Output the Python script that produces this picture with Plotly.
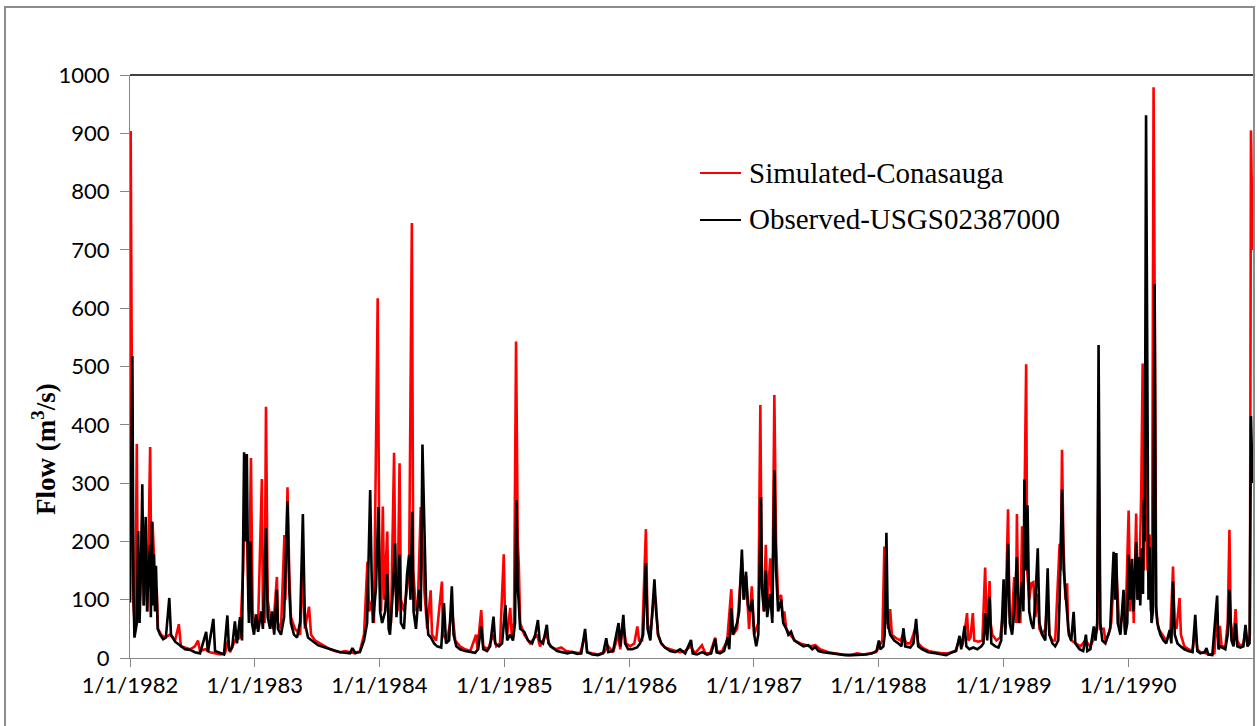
import pandas as pd
import plotly.graph_objects as go

# Daily streamflow record, Conasauga River (m3/s); x given as days since 1 Jan 1982
START = pd.Timestamp("1982-01-01")

sim_day = [0, 2, 6, 10, 15, 20, 23, 29, 36, 41, 46, 51, 59, 63, 66, 70, 73, 78, 82, 91,
           102, 117, 132, 143, 149, 161, 176, 190, 199, 205, 220, 234, 249, 264, 278, 287, 293, 307, 322, 331,
           337, 343, 348, 354, 359, 366, 375, 386, 389, 394, 398, 403, 410, 419, 430, 433, 442, 452, 455, 461,
           466, 471, 483, 498, 506, 512, 524, 530, 542, 556, 571, 586, 600, 615, 630, 644, 659, 673, 685, 695,
           700, 709, 714, 725, 730, 735, 740, 744, 753, 757, 764, 773, 777, 783, 789, 793, 802, 811, 817, 825,
           829, 837, 843, 851, 855, 861, 870, 880, 884, 896, 913, 916, 928, 937, 943, 952, 966, 981, 996, 1013,
           1017, 1028, 1034, 1048, 1063, 1072, 1083, 1094, 1098, 1104, 1113, 1117, 1124, 1130, 1135, 1138, 1142, 1154, 1171, 1192,
           1200, 1218, 1230, 1247, 1262, 1277, 1294, 1318, 1332, 1338, 1353, 1370, 1388, 1400, 1414, 1429, 1435, 1443, 1452, 1464,
           1476, 1485, 1490, 1499, 1510, 1515, 1523, 1535, 1539, 1545, 1555, 1566, 1581, 1596, 1610, 1625, 1640, 1654, 1674, 1684,
           1698, 1713, 1719, 1733, 1748, 1760, 1765, 1777, 1791, 1798, 1803, 1812, 1820, 1827, 1839, 1845, 1849, 1855, 1861, 1865,
           1874, 1880, 1886, 1891, 1897, 1906, 1910, 1915, 1921, 1932, 1947, 1962, 1976, 1991, 2006, 2020, 2044, 2064, 2085, 2108,
           2129, 2146, 2167, 2184, 2193, 2202, 2208, 2213, 2219, 2225, 2230, 2240, 2255, 2263, 2272, 2284, 2301, 2307, 2319, 2337,
           2357, 2377, 2395, 2416, 2427, 2436, 2442, 2450, 2454, 2460, 2467, 2471, 2483, 2495, 2503, 2508, 2516, 2519, 2524, 2536,
           2547, 2556, 2562, 2570, 2574, 2580, 2588, 2593, 2596, 2600, 2606, 2611, 2615, 2623, 2626, 2632, 2638, 2644, 2650, 2656,
           2662, 2670, 2679, 2685, 2691, 2700, 2708, 2721, 2724, 2728, 2732, 2738, 2743, 2746, 2755, 2767, 2782, 2796, 2811, 2826,
           2831, 2835, 2840, 2850, 2855, 2864, 2872, 2878, 2887, 2896, 2907, 2913, 2923, 2928, 2934, 2938, 2945, 2949, 2955, 2960,
           2964, 2968, 2974, 2978, 2984, 2988, 2992, 2996, 3001, 3004, 3010, 3022, 3033, 3045, 3053, 3057, 3063, 3072, 3076, 3086,
           3098, 3110, 3118, 3124, 3133, 3148, 3162, 3174, 3182, 3186, 3190, 3195, 3206, 3213, 3218, 3222, 3230, 3236, 3241, 3250,
           3259, 3265, 3271, 3278, 3281, 3286]
sim_flow = [100, 904, 400, 90, 50, 367, 80, 100, 240, 90, 200, 80, 362, 100, 233, 176, 100, 120, 50, 40,
            35, 40, 30, 58, 20, 18, 15, 20, 30, 12, 15, 10, 8, 6, 8, 30, 10, 30, 35, 150,
            330, 180, 80, 343, 80, 50, 60, 307, 80, 60, 431, 100, 70, 50, 139, 60, 50, 211, 100, 293,
            150, 70, 50, 40, 150, 50, 88, 40, 30, 25, 20, 15, 12, 10, 12, 10, 8, 12, 40, 165,
            80, 100, 60, 617, 150, 80, 260, 100, 217, 80, 60, 352, 120, 80, 334, 100, 80, 120, 150, 746,
            150, 80, 100, 259, 200, 120, 50, 116, 40, 30, 131, 40, 30, 60, 80, 30, 20, 15, 12, 40,
            15, 82, 20, 15, 40, 20, 25, 178, 60, 40, 86, 40, 60, 543, 200, 160, 60, 40, 25, 40,
            20, 40, 20, 15, 18, 12, 10, 8, 40, 10, 8, 6, 10, 20, 10, 40, 15, 60, 25, 20,
            25, 54, 30, 30, 221, 60, 40, 110, 98, 40, 25, 18, 15, 12, 10, 12, 20, 8, 22, 8,
            8, 35, 10, 12, 30, 118, 40, 50, 170, 100, 140, 50, 123, 40, 60, 434, 130, 80, 194, 90,
            171, 70, 451, 200, 100, 108, 70, 80, 50, 40, 30, 25, 22, 20, 22, 15, 10, 8, 6, 5,
            8, 6, 8, 10, 20, 30, 191, 100, 50, 84, 40, 35, 30, 40, 25, 25, 55, 25, 18, 12,
            10, 8, 8, 12, 30, 20, 40, 77, 30, 35, 77, 30, 28, 30, 155, 40, 132, 60, 40, 30,
            35, 80, 50, 255, 80, 50, 139, 60, 247, 80, 60, 226, 100, 504, 150, 100, 128, 130, 70, 110,
            50, 40, 50, 100, 40, 30, 30, 196, 150, 357, 200, 100, 128, 50, 30, 25, 20, 30, 20, 40,
            50, 350, 50, 50, 30, 40, 60, 120, 150, 50, 80, 40, 253, 80, 150, 60, 248, 100, 150, 290,
            505, 150, 480, 150, 212, 80, 212, 979, 300, 80, 50, 40, 30, 40, 157, 60, 50, 103, 40, 20,
            15, 12, 50, 15, 10, 8, 6, 8, 80, 20, 55, 20, 20, 60, 220, 60, 30, 84, 30, 20,
            25, 50, 20, 40, 905, 700]

obs_day = [0, 7, 10, 13, 20, 24, 28, 32, 36, 40, 42, 46, 50, 54, 59, 61, 64, 67, 70, 73,
           76, 81, 88, 97, 105, 115, 120, 132, 146, 161, 176, 190, 205, 223, 228, 244, 249, 264, 275, 285,
           290, 299, 307, 313, 322, 328, 334, 338, 342, 346, 348, 353, 357, 363, 369, 375, 384, 389, 398, 403,
           410, 416, 422, 430, 433, 442, 451, 461, 466, 471, 480, 489, 498, 506, 512, 521, 533, 550, 571, 591,
           615, 630, 644, 651, 659, 673, 685, 694, 703, 707, 711, 720, 727, 732, 738, 747, 753, 757, 761, 770,
           776, 780, 789, 793, 802, 811, 817, 821, 826, 830, 837, 846, 851, 856, 861, 867, 873, 881, 890, 899,
           911, 919, 925, 934, 942, 947, 955, 966, 981, 996, 1010, 1019, 1028, 1034, 1045, 1054, 1064, 1069, 1080, 1089,
           1099, 1104, 1113, 1121, 1127, 1131, 1135, 1138, 1142, 1154, 1165, 1177, 1186, 1194, 1199, 1209, 1220, 1225, 1236, 1250,
           1265, 1280, 1294, 1309, 1321, 1332, 1338, 1353, 1370, 1385, 1394, 1400, 1414, 1430, 1435, 1444, 1449, 1458, 1470, 1484,
           1493, 1502, 1510, 1515, 1523, 1535, 1540, 1546, 1555, 1566, 1581, 1596, 1610, 1625, 1642, 1647, 1660, 1675, 1689, 1701,
           1713, 1717, 1727, 1739, 1749, 1754, 1760, 1765, 1777, 1783, 1791, 1796, 1803, 1809, 1815, 1821, 1827, 1833, 1839, 1847,
           1850, 1856, 1861, 1865, 1874, 1880, 1886, 1891, 1897, 1906, 1912, 1921, 1927, 1935, 1944, 1956, 1971, 1985, 1997, 2006,
           2015, 2029, 2050, 2073, 2094, 2114, 2138, 2155, 2173, 2185, 2192, 2196, 2205, 2209, 2214, 2218, 2225, 2237, 2249, 2258,
           2264, 2269, 2284, 2293, 2301, 2307, 2319, 2337, 2357, 2372, 2389, 2407, 2418, 2428, 2433, 2443, 2448, 2457, 2468, 2480,
           2492, 2498, 2503, 2509, 2516, 2521, 2533, 2542, 2550, 2557, 2562, 2570, 2575, 2582, 2588, 2596, 2601, 2611, 2615, 2618,
           2623, 2627, 2632, 2638, 2644, 2650, 2657, 2662, 2670, 2679, 2686, 2691, 2700, 2708, 2717, 2721, 2728, 2733, 2743, 2748,
           2755, 2762, 2767, 2779, 2790, 2798, 2802, 2811, 2821, 2826, 2831, 2835, 2840, 2846, 2855, 2864, 2869, 2879, 2883, 2887,
           2891, 2899, 2908, 2913, 2919, 2923, 2928, 2933, 2937, 2945, 2949, 2953, 2957, 2962, 2965, 2967, 2970, 2974, 2978, 2981,
           2985, 2990, 2994, 2999, 3003, 3007, 3016, 3025, 3033, 3043, 3048, 3053, 3058, 3066, 3075, 3086, 3098, 3110, 3118, 3124,
           3133, 3145, 3151, 3156, 3168, 3182, 3186, 3191, 3197, 3206, 3213, 3218, 3224, 3230, 3236, 3241, 3250, 3259, 3265, 3271,
           3277, 3281, 3286]
obs_flow = [95, 518, 120, 35, 60, 218, 60, 150, 298, 90, 160, 242, 80, 150, 194, 70, 234, 90, 178, 80,
            158, 50, 40, 32, 35, 103, 40, 28, 22, 15, 14, 10, 8, 45, 10, 67, 12, 8, 6, 73,
            12, 18, 63, 25, 70, 30, 353, 200, 350, 110, 60, 200, 60, 40, 75, 45, 80, 50, 223, 70,
            50, 80, 40, 117, 50, 40, 70, 269, 120, 60, 40, 35, 62, 247, 60, 35, 30, 22, 18, 14,
            10, 9, 8, 17, 9, 10, 30, 60, 288, 150, 60, 120, 259, 80, 60, 80, 144, 50, 40, 120,
            197, 70, 177, 60, 50, 144, 177, 100, 251, 80, 50, 117, 80, 366, 238, 90, 40, 35, 25, 20,
            18, 94, 25, 30, 123, 40, 20, 15, 12, 10, 9, 15, 54, 15, 12, 20, 71, 25, 20, 25,
            91, 30, 40, 30, 60, 271, 120, 93, 50, 45, 30, 25, 40, 65, 30, 25, 57, 25, 18, 12,
            10, 8, 10, 7, 8, 50, 10, 6, 5, 8, 34, 10, 12, 60, 20, 74, 25, 15, 15, 18,
            25, 40, 163, 50, 30, 135, 80, 40, 25, 18, 12, 10, 15, 8, 31, 8, 6, 10, 6, 8,
            33, 10, 8, 12, 35, 15, 85, 40, 60, 80, 186, 100, 148, 90, 80, 100, 40, 20, 40, 276,
            120, 80, 150, 70, 110, 60, 322, 150, 80, 100, 60, 50, 40, 45, 30, 25, 20, 22, 15, 19,
            12, 10, 8, 6, 5, 5, 5, 6, 8, 12, 30, 15, 20, 40, 215, 60, 40, 30, 25, 20,
            51, 20, 18, 25, 67, 20, 15, 10, 8, 6, 5, 10, 12, 38, 15, 55, 20, 15, 18, 15,
            20, 25, 77, 30, 105, 25, 20, 18, 30, 135, 40, 196, 60, 40, 80, 173, 60, 130, 80, 306,
            150, 262, 80, 60, 50, 100, 188, 60, 40, 30, 154, 40, 25, 20, 30, 100, 289, 150, 70, 40,
            30, 79, 25, 15, 12, 40, 12, 15, 54, 30, 60, 537, 60, 30, 25, 40, 50, 182, 100, 180,
            60, 40, 117, 40, 60, 177, 100, 170, 80, 199, 100, 173, 90, 188, 110, 271, 200, 931, 250, 100,
            190, 60, 80, 641, 90, 60, 40, 30, 25, 48, 25, 131, 40, 25, 20, 15, 12, 10, 74, 12,
            8, 10, 17, 6, 5, 107, 15, 20, 18, 15, 40, 117, 30, 20, 60, 20, 18, 20, 57, 20,
            25, 415, 300]

year_ticks = ["1982-01-01", "1983-01-01", "1984-01-01", "1985-01-01", "1986-01-01",
              "1987-01-01", "1988-01-01", "1989-01-01", "1990-01-01"]
year_labels = ["1/1/1982", "1/1/1983", "1/1/1984", "1/1/1985", "1/1/1986",
               "1/1/1987", "1/1/1988", "1/1/1989", "1/1/1990"]

SIM_NAME = "Simulated-Conasauga"
OBS_NAME = "Observed-USGS02387000"

sim_dates = START + pd.to_timedelta(sim_day, unit="D")
obs_dates = START + pd.to_timedelta(obs_day, unit="D")

# Page geometry (pixels)
W, H = 1257, 726
ML, MR, MT, MB = 130, 4, 75, 68
PW, PH = W - ML - MR, H - MT - MB


def px(xp):
    return (xp - ML) / PW


def py(yp):
    return (H - MB - yp) / PH


AXIS_GREY = "#868686"
TICK_FONT = dict(family="Lato, Carlito, Calibri, sans-serif", size=22, color="#000000")
SERIF = "Liberation Serif, Times New Roman, serif"

fig = go.Figure()
fig.add_trace(go.Scatter(x=sim_dates, y=sim_flow, mode="lines", name=SIM_NAME,
                         line=dict(color="#FF0000", width=2.6), showlegend=False))
fig.add_trace(go.Scatter(x=obs_dates, y=obs_flow, mode="lines", name=OBS_NAME,
                         line=dict(color="#000000", width=2.6), showlegend=False))

shapes = [
    # outer chart frame
    dict(type="rect", xref="paper", yref="paper", x0=px(5), x1=px(1254), y0=py(760), y1=py(7),
         line=dict(color="#8c8c8c", width=2), layer="below"),
    # plot-area top edge
    dict(type="line", xref="paper", yref="paper", x0=0, x1=1, y0=1, y1=1,
         line=dict(color="#000000", width=1.3)),
    # legend keys
    dict(type="line", xref="paper", yref="paper", x0=px(700), x1=px(741), y0=py(173), y1=py(173),
         line=dict(color="#FF0000", width=2)),
    dict(type="line", xref="paper", yref="paper", x0=px(700), x1=px(741), y0=py(220), y1=py(220),
         line=dict(color="#000000", width=2)),
]

annotations = [
    dict(xref="paper", yref="paper", x=px(747), y=py(173), text=SIM_NAME, showarrow=False,
         xanchor="left", yanchor="middle", font=dict(family=SERIF, size=29, color="#000000")),
    dict(xref="paper", yref="paper", x=px(747), y=py(219), text=OBS_NAME, showarrow=False,
         xanchor="left", yanchor="middle", font=dict(family=SERIF, size=29, color="#000000")),
    dict(xref="paper", yref="paper", x=px(44), y=py(449), text="<b>Flow (m<sup>3</sup>/s)</b>",
         showarrow=False, textangle=-90, xanchor="center", yanchor="middle",
         font=dict(family=SERIF, size=27, color="#000000")),
]

fig.update_layout(
    width=W, height=H,
    margin=dict(l=ML, r=MR, t=MT, b=MB, pad=0),
    paper_bgcolor="#FFFFFF", plot_bgcolor="#FFFFFF",
    shapes=shapes, annotations=annotations,
    showlegend=False,
    xaxis=dict(type="date", range=["1982-01-01", "1991-01-01"],
               tickmode="array", tickvals=year_ticks, ticktext=year_labels,
               ticks="outside", ticklen=8, tickwidth=1, tickcolor=AXIS_GREY,
               showline=True, linecolor=AXIS_GREY, linewidth=1,
               showgrid=False, zeroline=False, tickfont=TICK_FONT),
    yaxis=dict(range=[0, 1000], tick0=0, dtick=100,
               ticks="outside", ticklen=9, tickwidth=1, tickcolor=AXIS_GREY,
               ticklabelstandoff=6,
               showline=True, linecolor=AXIS_GREY, linewidth=1,
               showgrid=False, zeroline=False, tickfont=TICK_FONT),
)

fig.write_html("out.html")
